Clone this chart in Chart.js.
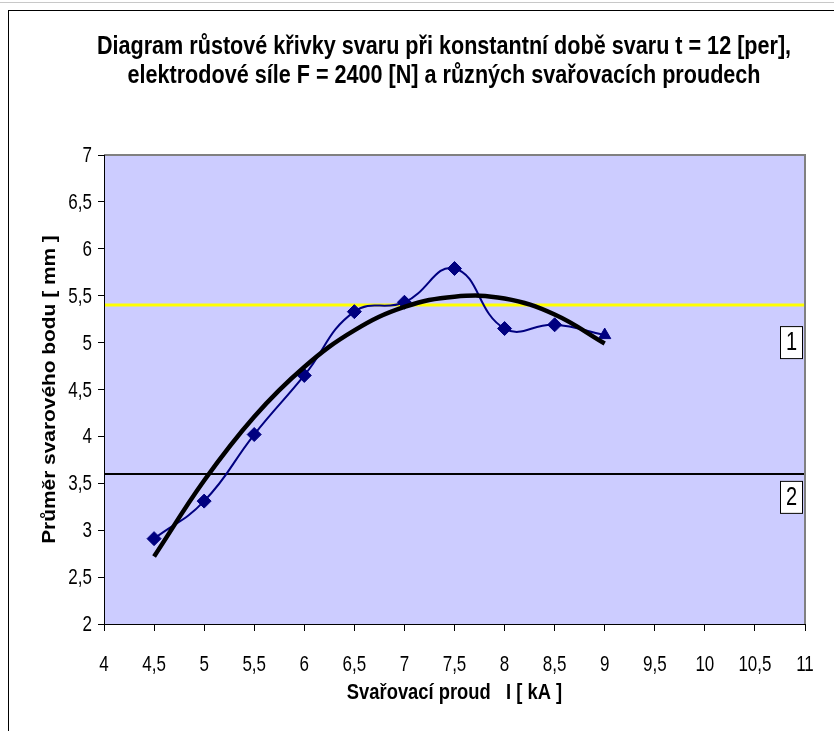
<!DOCTYPE html>
<html>
<head>
<meta charset="utf-8">
<script src="https://cdn.jsdelivr.net/npm/chart.js@4"></script>
<style>
  html, body { margin: 0; padding: 0; background: #fff; }
  #wrap { width: 834px; height: 731px; position: relative; }
</style>
</head>
<body>
<div id="wrap"><canvas id="rustGraph"></canvas></div>
<script>
// welding current [kA] and measured weld nugget diameter [mm]
var currentKA = [4.5, 5, 5.5, 6, 6.5, 7, 7.5, 8, 8.5, 9];
var weldDiameter = [2.91, 3.31, 4.02, 4.65, 5.33, 5.43, 5.79, 5.15, 5.19, 5.08];
// trend curve read at the same currents
var trendDiameter = [2.72, 3.53, 4.21, 4.74, 5.13, 5.38, 5.49, 5.47, 5.30, 4.99];

// limit lines 1 (upper) and 2 (lower)
var limitX = [4, 11];
var limitUpper = [5.4, 5.4];
var limitLower = [3.6, 3.6];
var limitTags = ["1", "2"];
var tagLevels = [5.0, 3.35];

var xTicks = [4, 4.5, 5, 5.5, 6, 6.5, 7, 7.5, 8, 8.5, 9, 9.5, 10, 10.5, 11];
var yTicks = [2, 2.5, 3, 3.5, 4, 4.5, 5, 5.5, 6, 6.5, 7];

var titleLines = [
  "Diagram růstové křivky svaru při konstantní době svaru t = 12 [per],",
  "elektrodové síle F = 2400 [N] a různých svařovacích proudech"
];
var xTitle = "Svařovací proud   I [ kA ]";
var yTitle = "Průměr svarového bodu [ mm ]";

var SANS = "'Liberation Sans', Arial, sans-serif";

function pairs(xs, ys) {
  return xs.map(function (x, i) { return {x: x, y: ys[i]}; });
}
function comma(v) {
  return String(v).replace(".", ",");
}
// text a bit taller than wide, like the old Excel export
function tallText(ctx, text, x, y, sx, sy) {
  ctx.save();
  ctx.translate(x, y);
  ctx.scale(sx, sy);
  ctx.fillText(text, 0, 0);
  ctx.restore();
}

var markerStyles = currentKA.map(function (v, i) {
  return i === currentKA.length - 1 ? "triangle" : "rectRot";
});

// frame, plot background, titles, tick labels and the boxed line tags
var excelLook = {
  id: "excelLook",
  beforeDraw: function (chart) {
    var ctx = chart.ctx, a = chart.chartArea;
    ctx.save();
    ctx.strokeStyle = "#c8c8c8";
    ctx.lineWidth = 1;
    ctx.beginPath(); ctx.moveTo(0, 2.5); ctx.lineTo(chart.width, 2.5); ctx.stroke();
    ctx.strokeStyle = "#000";
    ctx.strokeRect(8.5, 10.5, chart.width + 20, chart.height + 20);
    ctx.fillStyle = "#ccccff";
    ctx.fillRect(a.left, a.top, a.right - a.left, a.bottom - a.top);

    ctx.fillStyle = "#000";
    ctx.textAlign = "center";
    ctx.textBaseline = "middle";
    ctx.font = "bold 21.6px " + SANS;
    tallText(ctx, titleLines[0], 444, 47, 1, 1.15);
    tallText(ctx, titleLines[1], 444, 76, 1, 1.15);

    ctx.font = "bold 18px " + SANS;
    tallText(ctx, xTitle, (a.left + a.right) / 2, 693, 1.02, 1.25);

    ctx.translate(50, (a.top + a.bottom) / 2);
    ctx.rotate(-Math.PI / 2);
    tallText(ctx, yTitle, 0, 0, 1.16, 1);
    ctx.restore();
  },
  afterDraw: function (chart) {
    var ctx = chart.ctx, a = chart.chartArea;
    var xs = chart.scales.x, ys = chart.scales.y;
    ctx.save();
    ctx.strokeStyle = "#808080";
    ctx.lineWidth = 2;
    ctx.beginPath();
    ctx.moveTo(a.left, a.top); ctx.lineTo(a.right, a.top); ctx.lineTo(a.right, a.bottom);
    ctx.stroke();
    ctx.strokeStyle = "#000";
    ctx.lineWidth = 1;
    ctx.beginPath();
    ctx.moveTo(a.left + 0.5, a.top); ctx.lineTo(a.left + 0.5, a.bottom + 0.5);
    ctx.lineTo(a.right, a.bottom + 0.5);
    ctx.stroke();

    // tick labels with decimal comma
    ctx.fillStyle = "#000";
    ctx.font = "17px " + SANS;
    ctx.textBaseline = "middle";
    ctx.textAlign = "center";
    xs.ticks.forEach(function (t) {
      tallText(ctx, comma(t.value), xs.getPixelForValue(t.value), a.bottom + 41, 1, 1.3);
    });
    ctx.textAlign = "right";
    ys.ticks.forEach(function (t) {
      tallText(ctx, comma(t.value), a.left - 12, ys.getPixelForValue(t.value) + 1, 1, 1.3);
    });

    ctx.font = "20px " + SANS;
    ctx.textAlign = "center";
    limitTags.forEach(function (t, i) {
      var cy = ys.getPixelForValue(tagLevels[i]);
      var w = 23, h = 33, x0 = a.right - 2 - w;
      ctx.fillStyle = "#fff";
      ctx.fillRect(x0, cy - h / 2, w, h);
      ctx.strokeStyle = "#000";
      ctx.strokeRect(x0 + 0.5, cy - h / 2 + 0.5, w - 1, h - 1);
      ctx.fillStyle = "#000";
      tallText(ctx, t, x0 + w / 2, cy + 1, 1, 1.25);
    });
    ctx.restore();
  }
};

new Chart("rustGraph", {
  type: "line",
  data: {
    datasets: [
      {
        data: pairs(limitX, limitUpper),
        borderColor: "#ffff00",
        borderWidth: 3,
        pointRadius: 0,
        order: 4
      },
      {
        data: pairs(limitX, limitLower),
        borderColor: "#000000",
        borderWidth: 2,
        pointRadius: 0,
        order: 3
      },
      {
        data: pairs(currentKA, weldDiameter),
        borderColor: "#000080",
        backgroundColor: "#000080",
        borderWidth: 2,
        tension: 0.45,
        pointStyle: markerStyles,
        pointRadius: 7,
        pointBorderWidth: 1,
        order: 2
      },
      {
        data: pairs(currentKA, trendDiameter),
        borderColor: "#000000",
        borderWidth: 4.5,
        tension: 0.4,
        pointRadius: 0,
        order: 1
      }
    ]
  },
  options: {
    responsive: true,
    maintainAspectRatio: false,
    animation: false,
    layout: {padding: {top: 155, right: 29, left: 0, bottom: 0}},
    plugins: {
      legend: {display: false},
      title: {display: false},
      tooltip: {enabled: false}
    },
    scales: {
      x: {
        type: "linear",
        min: 4,
        max: 11,
        afterBuildTicks: function (s) { s.ticks = xTicks.map(function (v) { return {value: v}; }); },
        afterFit: function (s) { s.height = 107; },
        border: {display: false},
        grid: {drawOnChartArea: false, tickLength: 7, color: "#000"},
        ticks: {display: false}
      },
      y: {
        min: 2,
        max: 7,
        afterBuildTicks: function (s) { s.ticks = yTicks.map(function (v) { return {value: v}; }); },
        afterFit: function (s) { s.width = 104; },
        border: {display: false},
        grid: {drawOnChartArea: false, tickLength: 6, color: "#000"},
        ticks: {display: false}
      }
    }
  },
  plugins: [excelLook]
});
</script>
</body>
</html>
